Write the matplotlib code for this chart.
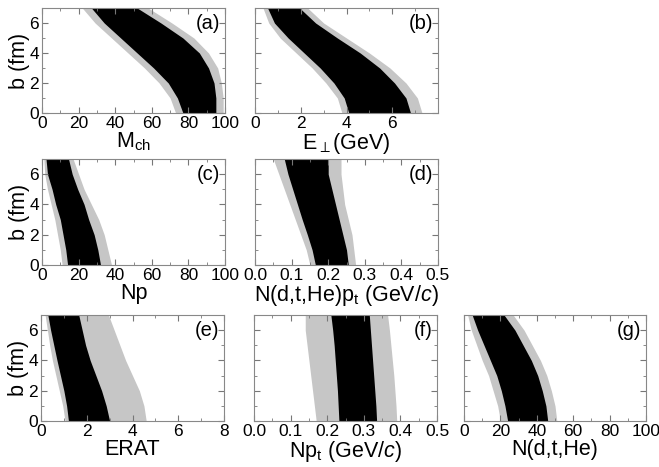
import matplotlib
matplotlib.use('Agg')
import matplotlib.pyplot as plt
from matplotlib.ticker import MultipleLocator, FixedLocator

plt.rcParams['font.family'] = ['Liberation Sans', 'DejaVu Sans']
plt.rcParams['mathtext.fontset'] = 'custom'
plt.rcParams['mathtext.rm'] = 'Liberation Sans'
plt.rcParams['mathtext.it'] = 'Liberation Sans:italic'

# impact parameter levels (fm)
b_fm = [0, 1, 2, 3, 4, 5, 6, 7]

# (a) M_ch : dense core edges and sparse halo edges
a_core_lo = [77, 74, 69, 61, 52, 43, 34, 27]
a_core_hi = [95, 95, 94, 91, 86, 77, 65, 52]
a_halo_lo = [73, 70, 64, 56, 47, 38, 29, 22]
a_halo_hi = [99, 99, 98, 96, 91, 83, 71, 58]

# (b) E_perp (GeV)
b_core_lo = [4.1, 3.9, 3.45, 2.85, 2.15, 1.45, 0.85, 0.55]
b_core_hi = [6.8, 6.6, 6.1, 5.45, 4.6, 3.6, 2.65, 1.95]
b_halo_lo = [3.8, 3.6, 3.1, 2.5, 1.8, 1.1, 0.6, 0.35]
b_halo_hi = [7.3, 7.1, 6.6, 5.9, 5.0, 4.0, 3.0, 2.3]

# (c) Np
c_core_lo = [14, 13, 11.5, 10, 7.5, 5.5, 3.0, 2.2]
c_core_hi = [32, 30.5, 28.5, 25.5, 23, 19.5, 16.5, 14.5]
c_halo_lo = [11, 10, 8.5, 7, 5, 3, 1.5, 1]
c_halo_hi = [38, 36, 34, 31, 27, 23, 20, 17]

# (d) N(d,t,He) p_t (GeV/c)
d_core_lo = [0.165, 0.156, 0.143, 0.129, 0.116, 0.103, 0.09, 0.08]
d_core_hi = [0.255, 0.25, 0.24, 0.23, 0.22, 0.21, 0.2, 0.2]
d_halo_lo = [0.15, 0.14, 0.125, 0.11, 0.095, 0.08, 0.065, 0.05]
d_halo_hi = [0.275, 0.27, 0.265, 0.255, 0.245, 0.24, 0.235, 0.235]

# (e) ERAT
e_core_lo = [1.2, 1.12, 1.0, 0.85, 0.7, 0.56, 0.42, 0.3]
e_core_hi = [3.0, 2.85, 2.65, 2.4, 2.15, 1.95, 1.8, 1.65]
e_halo_lo = [1.05, 0.95, 0.8, 0.65, 0.5, 0.38, 0.28, 0.18]
e_halo_hi = [4.6, 4.5, 4.3, 4.0, 3.7, 3.45, 3.2, 2.95]

# (f) Np_t (GeV/c)
f_core_lo = [0.232, 0.23, 0.228, 0.225, 0.222, 0.219, 0.215, 0.21]
f_core_hi = [0.335, 0.333, 0.33, 0.327, 0.324, 0.321, 0.318, 0.315]
f_halo_lo = [0.17, 0.165, 0.16, 0.155, 0.15, 0.145, 0.14, 0.14]
f_halo_hi = [0.39, 0.388, 0.385, 0.382, 0.378, 0.374, 0.37, 0.365]

# (g) N(d,t,He)
g_core_lo = [24, 22.5, 20.5, 18, 14.5, 11, 7.5, 4.5]
g_core_hi = [46, 45, 43, 40.5, 37, 32.5, 28, 22]
g_halo_lo = [20, 18.5, 16, 13.5, 10, 7, 4, 2]
g_halo_hi = [51, 50, 48, 45.5, 42, 37.5, 33, 27]

W, H = 659, 467
fig = plt.figure(figsize=(W / 100, H / 100), dpi=100)


def panel(l, r, t, bot):
    return fig.add_axes([l / W, 1 - bot / H, (r - l) / W, (bot - t) / H])


def draw(ax, core_lo, core_hi, halo_lo, halo_hi, xmax, major, minor, label, tag,
         left=False, majors=None):
    ax.fill_betweenx(b_fm, halo_lo, halo_hi, color='#c6c6c6', lw=0)
    ax.fill_betweenx(b_fm, core_lo, core_hi, color='black', lw=0)
    ax.set_xlim(0, xmax)
    ax.set_ylim(0, 7)
    if majors is not None:
        ax.xaxis.set_major_locator(FixedLocator(majors))
    else:
        ax.xaxis.set_major_locator(MultipleLocator(major))
    ax.xaxis.set_minor_locator(MultipleLocator(minor))
    ax.yaxis.set_major_locator(MultipleLocator(2))
    ax.yaxis.set_minor_locator(MultipleLocator(1))
    ax.tick_params(which='both', direction='in', top=True, right=True,
                   color='#777777', labelsize=12.5, pad=2)
    ax.tick_params(which='major', length=4)
    ax.tick_params(which='minor', length=2)
    if not left:
        ax.set_yticklabels([])
    else:
        ax.set_ylabel('b (fm)', fontsize=15.5, labelpad=0)
    for s in ax.spines.values():
        s.set_color('#888888')
    ax.set_xlabel(label, fontsize=15.5, labelpad=0)
    ax.text(0.975, 0.94, tag, transform=ax.transAxes, ha='right', va='top',
            fontsize=14.5)


ax_a = panel(42, 225, 8, 113)
draw(ax_a, a_core_lo, a_core_hi, a_halo_lo, a_halo_hi, 100, 20, 10,
     r'M$_{\rm ch}$', '(a)', left=True)
ax_b = panel(255, 438, 8, 113)
draw(ax_b, b_core_lo, b_core_hi, b_halo_lo, b_halo_hi, 8, 2, 1,
     r'E$_{\perp}$(GeV)', '(b)', majors=[0, 2, 4, 6])

ax_c = panel(42, 225, 159, 265)
draw(ax_c, c_core_lo, c_core_hi, c_halo_lo, c_halo_hi, 100, 20, 10,
     'Np', '(c)', left=True)
ax_d = panel(255, 438, 159, 265)
draw(ax_d, d_core_lo, d_core_hi, d_halo_lo, d_halo_hi, 0.5, 0.1, 0.05,
     r'N(d,t,He)p$_{\rm t}$ (GeV/$c$)', '(d)')

ax_e = panel(41, 224, 315, 421)
draw(ax_e, e_core_lo, e_core_hi, e_halo_lo, e_halo_hi, 8, 2, 1,
     'ERAT', '(e)', left=True)
ax_f = panel(254, 437, 315, 421)
draw(ax_f, f_core_lo, f_core_hi, f_halo_lo, f_halo_hi, 0.5, 0.1, 0.05,
     r'Np$_{\rm t}$ (GeV/$c$)', '(f)')
ax_g = panel(464, 646, 315, 421)
draw(ax_g, g_core_lo, g_core_hi, g_halo_lo, g_halo_hi, 100, 20, 10,
     'N(d,t,He)', '(g)')

fig.savefig('out.png', dpi=100)
